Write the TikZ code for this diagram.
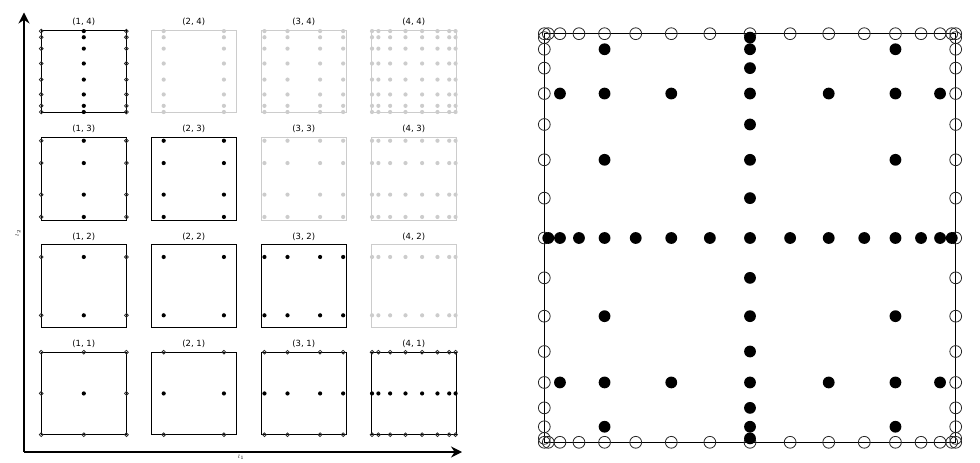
\documentclass[tikz,border=0pt]{standalone}
\usepackage{fontspec}
\setmainfont{DejaVu Sans}
\usetikzlibrary{arrows.meta}
\tikzset{
  ttl/.style={font=\fontsize{8.5}{9}\selectfont, inner sep=0pt},
  axlbl/.style={font=\fontsize{5.5}{6}\selectfont, inner sep=0pt},
  boxon/.style={draw=black, line width=1bp},
  boxoff/.style={draw=black!20, line width=0.9bp},
  axisarrow/.style={line width=1.4bp, -{Stealth[length=11bp,width=11bp]}},
  openpt/.style={draw=black!85, line width=0.75bp},
  bigopen/.style={draw=black!85, line width=0.8bp},
  fillpt/.style={fill=black},
  greypt/.style={fill=black!20},
}
\def\LA{0,0.5,1}
\def\LB{0.146447,0.853553}
\def\LC{0.038060,0.308658,0.691342,0.961940}
\def\LD{0.009607,0.084265,0.222215,0.402455,0.597545,0.777785,0.915735,0.990393}
% #1 xlist #2 ylist #3 x0 #4 w #5 ybottom #6 h #7 mode (0 open,1 filled,2 grey) #8 radius #9 open style
\newcommand\ptset[9]{%
  \foreach \xx in #1 {\foreach \yy in #2 {%
    \pgfmathtruncatemacro\bd{(\xx==0||\xx==1||\yy==0||\yy==1)?1:0}%
    \ifnum#7=2
      \fill[greypt] ({#3+#4*\xx},{#5-#6*\yy}) circle[radius=#8];
    \else
      \pgfmathtruncatemacro\dr{#7+\bd}%
      \ifnum\dr=1
        \ifnum#7=0
          \draw[#9] ({#3+#4*\xx},{#5-#6*\yy}) circle[radius=#8];
        \else
          \fill[fillpt] ({#3+#4*\xx},{#5-#6*\yy}) circle[radius=#8];
        \fi
      \fi
    \fi
  }}%
}
\newcommand\leftgrid[5]{%
  \pgfmathsetmacro\gl{41.2+110*(#1-1)}%
  \pgfmathsetmacro\gb{30.3+107.3*(4-#2)+82.5}%
  \ifnum#5=1
    \draw[boxon] (\gl,\gb) rectangle ++(85.2,-82.5);
    \ptset{#3}{#4}{\gl}{85.2}{\gb}{82.5}{0}{1.9}{openpt}
    \ptset{#3}{#4}{\gl}{85.2}{\gb}{82.5}{1}{2.1}{openpt}
  \else
    \draw[boxoff] (\gl,\gb) rectangle ++(85.2,-82.5);
    \ptset{#3}{#4}{\gl}{85.2}{\gb}{82.5}{2}{2.1}{openpt}
  \fi
  \node[ttl] (t#1#2) at ({\gl+42.6},{\gb-82.5-8.5}) {(#1, #2)};
}
\newcommand\rightgrid[3]{%
  \ptset{#1}{#2}{544.3}{411.4}{442.3}{408.6}{#3}{5.9}{bigopen}
}
\begin{document}
\begin{tikzpicture}[x=1bp,y=-1bp]
\useasboundingbox (0,0) rectangle (980,463);
% axes
\coordinate (o) at (24,452);
\coordinate (ytip) at (24,12.5);
\coordinate (xtip) at (462,452);
\draw[axisarrow] (o) -- (ytip);
\draw[axisarrow] (o) -- (xtip);
\node[axlbl] (l1) at (241,457.5) {$l_1$};
\node[axlbl, rotate=90] (l2) at (18,233) {$l_2$};
% left panel
\leftgrid{1}{1}{\LA}{\LA}{1}
\leftgrid{2}{1}{\LB}{\LA}{1}
\leftgrid{3}{1}{\LC}{\LA}{1}
\leftgrid{4}{1}{\LD}{\LA}{1}
\leftgrid{1}{2}{\LA}{\LB}{1}
\leftgrid{2}{2}{\LB}{\LB}{1}
\leftgrid{3}{2}{\LC}{\LB}{1}
\leftgrid{4}{2}{\LD}{\LB}{0}
\leftgrid{1}{3}{\LA}{\LC}{1}
\leftgrid{2}{3}{\LB}{\LC}{1}
\leftgrid{3}{3}{\LC}{\LC}{0}
\leftgrid{4}{3}{\LD}{\LC}{0}
\leftgrid{1}{4}{\LA}{\LD}{1}
\leftgrid{2}{4}{\LB}{\LD}{0}
\leftgrid{3}{4}{\LC}{\LD}{0}
\leftgrid{4}{4}{\LD}{\LD}{0}
% right panel
\draw[boxon] (544.3,442.3) rectangle (955.7,33.7);
\foreach \m in {0,1}{
  \rightgrid{\LA}{\LA}{\m}
  \rightgrid{\LB}{\LA}{\m}
  \rightgrid{\LC}{\LA}{\m}
  \rightgrid{\LD}{\LA}{\m}
  \rightgrid{\LA}{\LB}{\m}
  \rightgrid{\LB}{\LB}{\m}
  \rightgrid{\LC}{\LB}{\m}
  \rightgrid{\LA}{\LC}{\m}
  \rightgrid{\LB}{\LC}{\m}
  \rightgrid{\LA}{\LD}{\m}
}
\end{tikzpicture}
\end{document}
